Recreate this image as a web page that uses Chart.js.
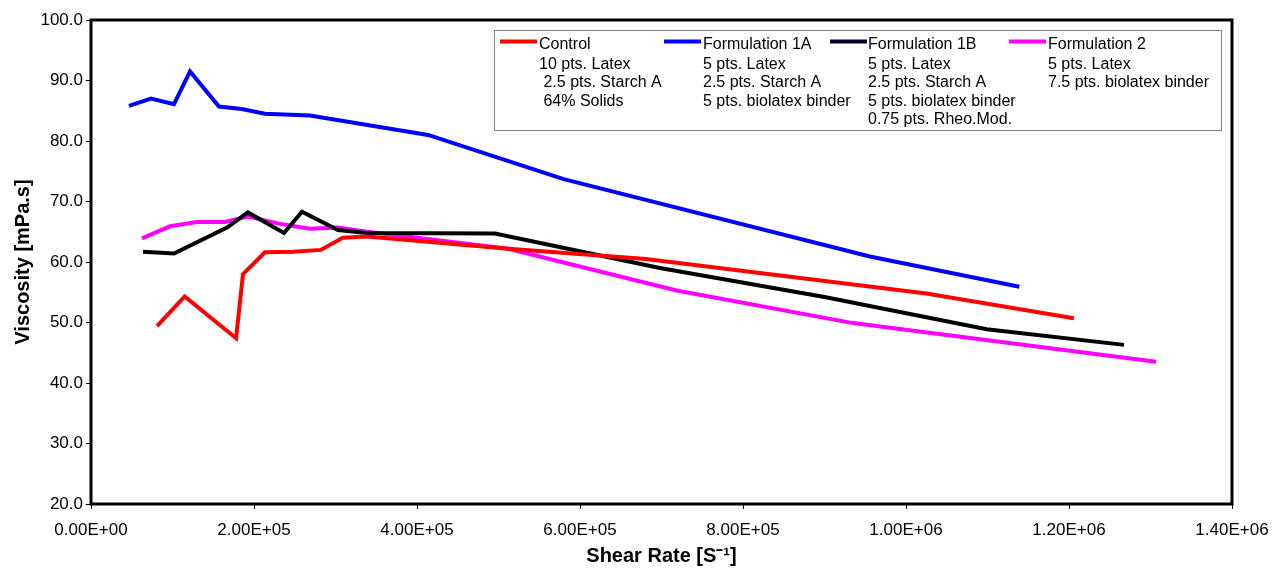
<!DOCTYPE html>
<html>
<head>
<meta charset="utf-8">
<script src="https://cdn.jsdelivr.net/npm/chart.js@4.4.1/dist/chart.umd.min.js"></script>
<style>
  html, body { margin: 0; padding: 0; background: #fff; }
  #wrap { width: 1277px; height: 569px; }
</style>
</head>
<body>
<div id="wrap"><canvas id="myChart" width="1277" height="569"></canvas></div>
<script>
// values
const controlX = [81000, 115000, 178000, 186500, 213500, 248000, 282000, 309000, 338700, 512000, 681000, 1025000, 1206000];
const controlY = [49.4, 54.3, 47.4, 58.0, 61.6, 61.7, 62.0, 64.0, 64.2, 62.2, 60.5, 54.8, 50.7];

const form1aX = [46600, 73600, 101800, 121500, 157000, 185000, 213500, 268700, 413500, 580000, 955700, 1139000];
const form1aY = [85.8, 87.0, 86.1, 91.5, 85.7, 85.3, 84.5, 84.2, 81.0, 73.7, 60.9, 55.9];

const form1bX = [63800, 101800, 166900, 192600, 236800, 258900, 303000, 338700, 495700, 698000, 900000, 1099000, 1267500];
const form1bY = [61.7, 61.4, 65.7, 68.2, 64.8, 68.3, 65.3, 64.8, 64.7, 59.0, 54.2, 48.9, 46.3];

const form2X = [62600, 97000, 130000, 164000, 192600, 232000, 268700, 303000, 338700, 512000, 718600, 935000, 1306800];
const form2Y = [63.9, 65.9, 66.6, 66.6, 67.5, 66.3, 65.5, 65.7, 65.0, 62.2, 55.3, 49.9, 43.5];

const seriesNames = ['Control', 'Formulation 1A', 'Formulation 1B', 'Formulation 2'];
const seriesColors = ['#ff0000', '#0000ff', '#000000', '#ff00ff'];
const legendColors = ['#ff0000', '#0000ff', '#000033', '#ff00ff'];
const legendNotes = [
  ['10 pts. Latex', ' 2.5 pts. Starch A', ' 64% Solids'],
  ['5 pts. Latex', '2.5 pts. Starch A', '5 pts. biolatex binder'],
  ['5 pts. Latex', '2.5 pts. Starch A', '5 pts. biolatex binder', '0.75 pts. Rheo.Mod.'],
  ['5 pts. Latex', '7.5 pts. biolatex binder']
];

const xMin = 0, xMax = 1400000, xStep = 200000;
const yMin = 20, yMax = 100, yStep = 10;

function pairs(xs, ys) {
  return xs.map(function (x, i) { return { x: x, y: ys[i] }; });
}

function sci(v) {
  const parts = v.toExponential(2).split('e');
  const sign = parts[1][0];
  const digits = parts[1].slice(1).padStart(2, '0');
  return parts[0] + 'E' + sign + digits;
}

const FONT = "'Liberation Sans', Arial, sans-serif";

const frameAndLegend = {
  id: 'frameAndLegend',
  afterDraw: function (chart) {
    const ctx = chart.ctx;
    const a = chart.chartArea;
    ctx.save();
    ctx.strokeStyle = '#000';
    ctx.lineWidth = 3;
    ctx.strokeRect(a.left, a.top, a.right - a.left, a.bottom - a.top);

    // legend box
    ctx.fillStyle = '#fff';
    ctx.fillRect(494.5, 30.5, 727, 100);
    ctx.strokeStyle = '#808080';
    ctx.lineWidth = 1;
    ctx.strokeRect(494.5, 30.5, 727, 100);

    const textX = [539, 703, 868, 1048];
    const sampleX = [500, 664, 830, 1009];
    ctx.font = '16px ' + FONT;
    ctx.textBaseline = 'alphabetic';
    ctx.textAlign = 'left';
    for (let i = 0; i < seriesNames.length; i++) {
      ctx.strokeStyle = legendColors[i];
      ctx.lineWidth = 4;
      ctx.beginPath();
      ctx.moveTo(sampleX[i], 41.5);
      ctx.lineTo(sampleX[i] + 37, 41.5);
      ctx.stroke();
      ctx.fillStyle = '#000';
      ctx.fillText(seriesNames[i], textX[i], 49);
      const notes = legendNotes[i];
      for (let j = 0; j < notes.length; j++) {
        ctx.fillText(notes[j], textX[i], 68.5 + j * 18.5);
      }
    }
    ctx.restore();
  }
};

const datasets = [
  pairs(controlX, controlY),
  pairs(form1aX, form1aY),
  pairs(form1bX, form1bY),
  pairs(form2X, form2Y)
].map(function (d, i) {
  return {
    label: seriesNames[i],
    data: d,
    borderColor: seriesColors[i],
    backgroundColor: seriesColors[i],
    borderWidth: 4,
    pointRadius: 0,
    tension: 0,
    fill: false
  };
});

new Chart(document.getElementById('myChart'), {
  type: 'line',
  data: { datasets: datasets },
  plugins: [frameAndLegend],
  options: {
    responsive: false,
    animation: false,
    layout: { padding: { top: 20, right: 45, left: 0, bottom: 0 } },
    plugins: {
      legend: { display: false },
      tooltip: { enabled: false }
    },
    scales: {
      x: {
        type: 'linear',
        min: xMin,
        max: xMax,
        afterFit: function (s) { s.height = 65; s.paddingLeft = 0; s.paddingRight = 0; },
        ticks: {
          stepSize: xStep,
          color: '#000',
          font: { family: FONT, size: 17 },
          padding: 11,
          maxRotation: 0,
          callback: function (v) { return sci(v); }
        },
        grid: { drawOnChartArea: false, drawTicks: true, tickLength: 5, color: '#000' },
        border: { display: true, color: '#000', width: 2 },
        title: {
          display: true,
          text: 'Shear Rate [S\u207B\u00B9]',
          color: '#000',
          font: { family: FONT, size: 20, weight: 'bold' },
          padding: { top: 0, bottom: 1 }
        }
      },
      y: {
        type: 'linear',
        min: yMin,
        max: yMax,
        afterFit: function (s) { s.width = 91; },
        ticks: {
          stepSize: yStep,
          color: '#000',
          font: { family: FONT, size: 17 },
          padding: 3,
          callback: function (v) { return v.toFixed(1); }
        },
        grid: { drawOnChartArea: false, drawTicks: true, tickLength: 5, color: '#000' },
        border: { display: true, color: '#000', width: 2 },
        title: {
          display: true,
          text: 'Viscosity [mPa.s]',
          color: '#000',
          font: { family: FONT, size: 20, weight: 'bold' },
          padding: { top: 11, bottom: 0 }
        }
      }
    }
  }
});
</script>
</body>
</html>
